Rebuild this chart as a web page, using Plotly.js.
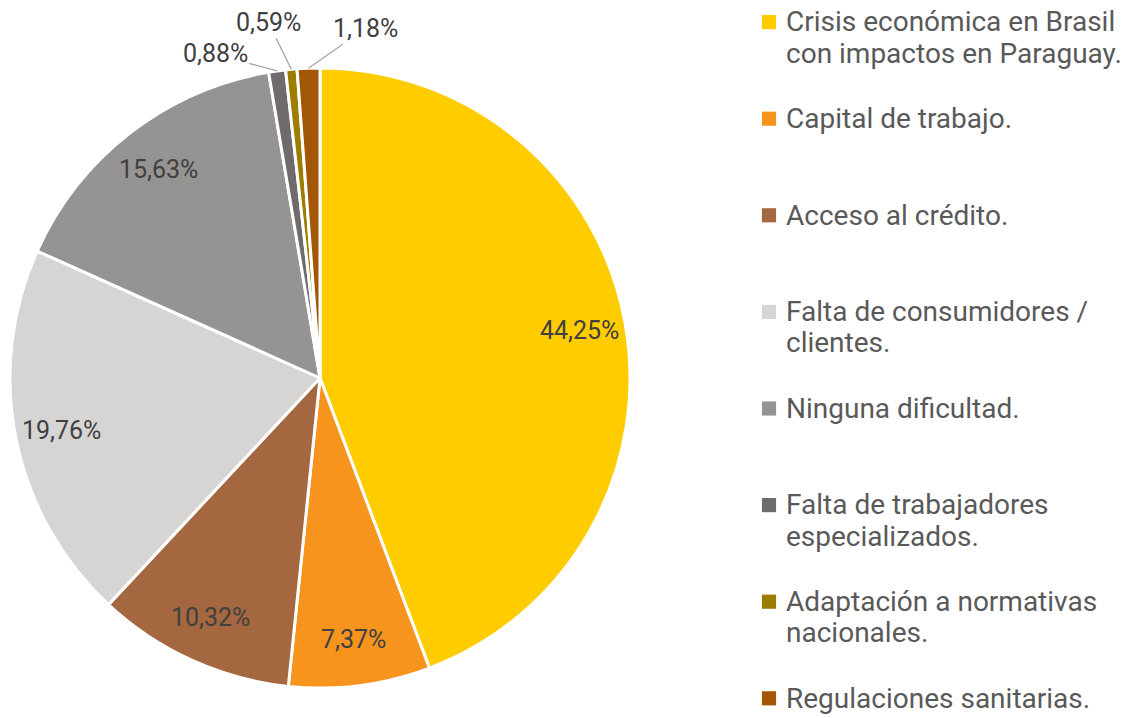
<!DOCTYPE html>
<html>
<head>
<meta charset="utf-8">
<script src="https://cdn.plot.ly/plotly-3.0.1.min.js"></script>
<style>
html,body{margin:0;padding:0;background:#ffffff;}
#chart path.legendpie{stroke-width:0 !important;transform:translate(23px,0px) scale(1.18);}
</style>
</head>
<body>
<div id="chart" style="width:1140px;height:718px;"></div>
<script>
// ---- data ----
const categories = [
  'Crisis económica en Brasil con impactos en Paraguay.',
  'Capital de trabajo.',
  'Acceso al crédito.',
  'Falta de consumidores / clientes.',
  'Ninguna dificultad.',
  'Falta de trabajadores especializados.',
  'Adaptación a normativas nacionales.',
  'Regulaciones sanitarias.'
];
const legendLines = [
  ['Crisis económica en Brasil', 'con impactos en Paraguay.'],
  ['Capital de trabajo.'],
  ['Acceso al crédito.'],
  ['Falta de consumidores /', 'clientes.'],
  ['Ninguna dificultad.'],
  ['Falta de trabajadores', 'especializados.'],
  ['Adaptación a normativas', 'nacionales.'],
  ['Regulaciones sanitarias.']
];
const values = [44.25, 7.37, 10.32, 19.76, 15.63, 0.88, 0.59, 1.18];
const valueLabels = ['44,25%', '7,37%', '10,32%', '19,76%', '15,63%', '0,88%', '0,59%', '1,18%'];
const colors = ['#FFCC00', '#F7941D', '#A5673F', '#D6D5D3', '#959492', '#6F6A6B', '#9C7D00', '#A35706'];
const labelOutside = [false, false, false, false, false, true, true, true];
const outsideOffsets = [null, null, null, null, null, [-62, -17], [-23, -47], [57, -40]];

// ---- layout helpers ----
const W = 1140, H = 718;
const pieDomain = {x: [10 / W, 630 / W], y: [30 / H, 650 / H]};
const cx = (pieDomain.x[0] + pieDomain.x[1]) / 2;
const cy = (pieDomain.y[0] + pieDomain.y[1]) / 2;
const rx = (pieDomain.x[1] - pieDomain.x[0]) / 2;
const ry = (pieDomain.y[1] - pieDomain.y[0]) / 2;

const FILL = '\u00a0';
const legendNames = legendLines.map((lines, i) => {
  const padded = lines.slice();
  if (i < legendLines.length - 1) { while (padded.length < 3) padded.push(FILL); }
  return padded.map(t => '<span style="font-size:28px">' + t + '</span>').join('<br>');
});

const total = values.reduce((a, b) => a + b, 0);
let cum = 0;
const annotations = [];
values.forEach((v, i) => {
  const mid = (cum + v / 2) / total * 2 * Math.PI;
  cum += v;
  const s = Math.sin(mid), c = Math.cos(mid);
  if (!labelOutside[i]) {
    annotations.push({
      xref: 'paper', yref: 'paper',
      x: cx + 0.85 * rx * s, y: cy + 0.85 * ry * c,
      text: valueLabels[i], showarrow: false,
      xanchor: 'center', yanchor: 'middle',
      font: {family: 'Roboto, sans-serif', size: 25, color: '#404040'}
    });
  } else {
    annotations.push({
      xref: 'paper', yref: 'paper',
      x: cx + 1.0 * rx * s, y: cy + 1.0 * ry * c,
      text: valueLabels[i], showarrow: true, arrowhead: 0,
      arrowcolor: '#A6A6A6', arrowwidth: 1.3,
      ax: outsideOffsets[i][0], ay: outsideOffsets[i][1],
      font: {family: 'Roboto, sans-serif', size: 25, color: '#404040'}
    });
  }
});

const trace = {
  type: 'pie',
  labels: legendNames,
  values: values,
  sort: false,
  direction: 'clockwise',
  rotation: 0,
  textinfo: 'none',
  hoverinfo: 'none',
  domain: pieDomain,
  marker: {colors: colors, line: {color: '#ffffff', width: 3}}
};

const layout = {
  width: W, height: H,
  margin: {l: 0, r: 0, t: 0, b: 0},
  paper_bgcolor: '#ffffff',
  plot_bgcolor: '#ffffff',
  showlegend: true,
  legend: {
    x: 746 / W, xanchor: 'left',
    y: 1 - 4 / H, yanchor: 'top',
    valign: 'top',
    maxheight: 2000,
    font: {family: 'Roboto, sans-serif', size: 24.0, color: '#595959'},
    bgcolor: 'rgba(0,0,0,0)',
    traceorder: 'normal'
  },
  annotations: annotations
};

Plotly.newPlot('chart', [trace], layout, {displayModeBar: false, staticPlot: true});
</script>
</body>
</html>
